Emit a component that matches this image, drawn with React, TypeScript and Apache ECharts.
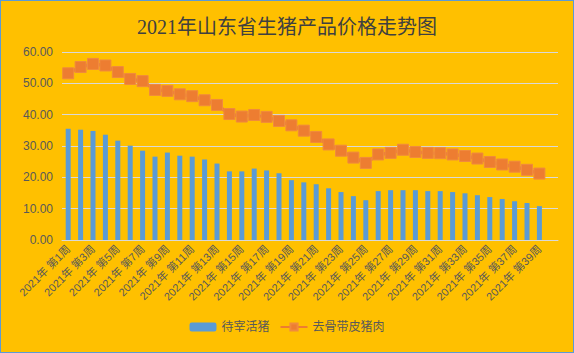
import React, { useEffect, useRef } from "react";
import * as echarts from "echarts";

const title = "2021年山东省生猪产品价格走势图";
const weeks: string[] = Array.from({ length: 40 }, (_, i) => `2021年 第${i + 1}周`);
const livePig: number[] = [
  35.5, 35.2, 34.8, 33.6, 31.7, 30.1, 28.5, 26.6, 27.9, 26.9,
  26.6, 25.7, 24.4, 21.9, 21.9, 22.8, 22.2, 21.3, 19.1, 18.4,
  17.8, 16.5, 15.3, 14.0, 12.7, 15.6, 15.9, 15.9, 15.9, 15.6,
  15.6, 15.3, 14.9, 14.3, 13.7, 13.1, 12.4, 11.8, 10.8,
];
const boneless: number[] = [
  53.2, 55.2, 56.2, 55.7, 53.6, 51.4, 50.7, 47.9, 47.6, 46.5,
  45.9, 44.6, 43.1, 40.2, 39.4, 39.9, 39.3, 38.0, 36.6, 34.9,
  32.9, 30.5, 28.5, 26.3, 24.6, 27.3, 27.8, 28.8, 28.1, 27.8,
  27.7, 27.3, 26.8, 26.0, 24.9, 24.1, 23.4, 22.4, 21.2,
];
const seriesNames = ["待宰活猪", "去骨带皮猪肉"];

const FONT = "'Liberation Sans', 'Noto Sans CJK SC', sans-serif";

export default function App() {
  const ref = useRef<HTMLDivElement>(null);
  useEffect(() => {
    if (!ref.current) return;
    const chart = echarts.init(ref.current, null, { renderer: "svg" });
    chart.setOption({
      animation: false,
      backgroundColor: "#FFC000",
      title: {
        text: title,
        left: "center",
        top: 11,
        textStyle: {
          fontFamily: "'Liberation Serif', 'Noto Sans CJK SC', serif",
          fontSize: 20,
          fontWeight: "normal",
          color: "#404040",
        },
      },
      legend: {
        bottom: 14,
        left: "center",
        itemWidth: 27,
        itemHeight: 9,
        itemGap: 10,
        textStyle: { fontFamily: FONT, fontSize: 12, color: "#595959" },
        data: seriesNames,
      },
      grid: { left: 61, right: 15, top: 51, bottom: 112, containLabel: false },
      xAxis: {
        type: "category",
        data: weeks,
        boundaryGap: true,
        axisLine: { show: true, lineStyle: { color: "#D9D9D9", width: 1 } },
        axisTick: { show: false },
        axisLabel: {
          interval: 1,
          rotate: 45,
          margin: 7,
          fontFamily: FONT,
          fontSize: 11,
          color: "#595959",
        },
      },
      yAxis: {
        type: "value",
        min: 0,
        max: 60,
        interval: 10,
        axisLine: { show: false },
        axisTick: { show: false },
        splitLine: { lineStyle: { color: "#D9D9D9", width: 1 } },
        axisLabel: {
          formatter: (v: number) => v.toFixed(2),
          margin: 9,
          fontFamily: FONT,
          fontSize: 12,
          color: "#595959",
        },
      },
      series: [
        {
          name: seriesNames[0],
          type: "bar",
          data: livePig,
          barWidth: 5,
          itemStyle: { color: "#5B9BD5" },
        },
        {
          name: seriesNames[1],
          type: "line",
          data: boneless,
          symbol: "rect",
          symbolSize: 11,
          showAllSymbol: true,
          lineStyle: { color: "#ED7D31", width: 3.5 },
          itemStyle: { color: "#ED7D31", borderColor: "#F08A3E", borderWidth: 1 },
        },
      ],
    });
    return () => chart.dispose();
  }, []);
  return (
    <div
      style={{
        position: "fixed",
        left: 0,
        top: 0,
        width: 574,
        height: 353,
        boxSizing: "border-box",
        border: "1px solid #5B9BD5",
        background: "#FFC000",
      }}
    >
      <div ref={ref} style={{ width: 572, height: 351 }} />
    </div>
  );
}
